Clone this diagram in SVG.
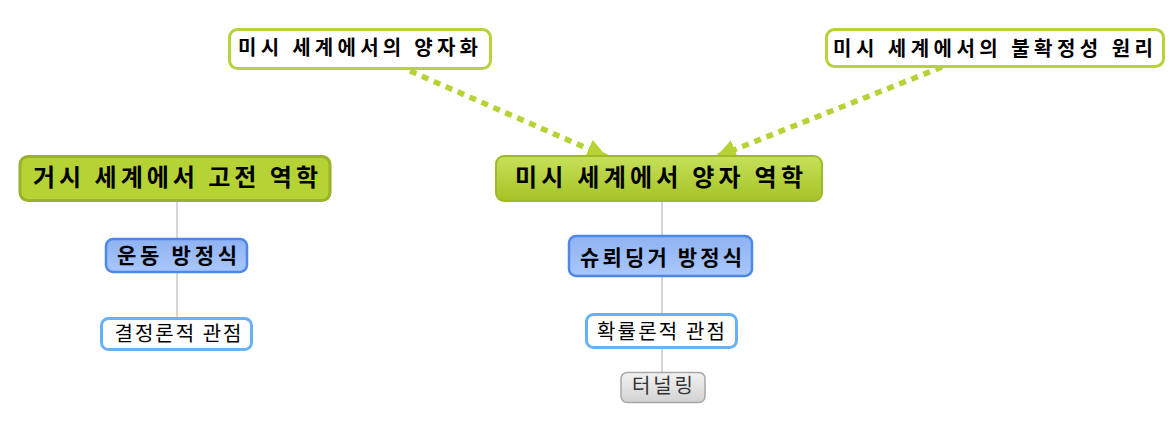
<svg xmlns="http://www.w3.org/2000/svg" width="1175" height="421" viewBox="0 0 1175 421">
<style>
text{font-family:"Noto Sans CJK KR","Noto Sans",sans-serif;text-anchor:middle;fill:#000}
.b{font-weight:bold}
.conn{stroke:#c8c8c8;stroke-width:1.5;fill:none}
.dash{stroke:#b5d334;stroke-width:5.5;stroke-dasharray:7 6;fill:none}
.top{fill:#fff;stroke:#b7d33a;stroke-width:3}
.blue{fill:url(#gb);stroke:#4d88e8;stroke-width:2.5}
.wb{fill:#fff;stroke:#67b1f6;stroke-width:3}
</style>
<defs>
<linearGradient id="gg" x1="0" y1="0" x2="0" y2="1"><stop offset="0" stop-color="#c6e15a"/><stop offset="1" stop-color="#a5c325"/></linearGradient>
<linearGradient id="gb" x1="0" y1="0" x2="0" y2="1"><stop offset="0" stop-color="#8fb2f3"/><stop offset="1" stop-color="#a9c7fa"/></linearGradient>
<linearGradient id="gr" x1="0" y1="0" x2="0" y2="1"><stop offset="0" stop-color="#f2f2f2"/><stop offset="1" stop-color="#d2d2d2"/></linearGradient>
<marker id="ah" markerUnits="userSpaceOnUse" markerWidth="22" markerHeight="22" refX="20" refY="10" orient="auto" viewBox="0 0 22 22">
<path d="M0,0 L20,10 L0,20 Z" fill="#b5d334"/>
</marker>
</defs>
<g id="connectors">
<line class="conn" x1="177" y1="202" x2="177" y2="238"/>
<line class="conn" x1="177" y1="273" x2="177" y2="318"/>
<line class="conn" x1="662" y1="201" x2="662" y2="236"/>
<line class="conn" x1="662" y1="276" x2="662" y2="313"/>
<line class="conn" x1="662" y1="348" x2="662" y2="372"/>
<line class="dash" x1="410" y1="71" x2="607" y2="157" marker-end="url(#ah)"/>
<line class="dash" x1="942" y1="67" x2="716" y2="157" marker-end="url(#ah)"/>
</g>
<g id="n1">
<rect class="top" x="229.5" y="29.5" width="261" height="39" rx="8"/>
<text class="b" x="358" y="55" font-size="20" textLength="240" lengthAdjust="spacing">미시 세계에서의 양자화</text>
</g>
<g id="n2">
<rect class="top" x="826.5" y="29.5" width="337" height="37" rx="8"/>
<text class="b" x="993" y="55.5" font-size="20" textLength="320" lengthAdjust="spacing">미시 세계에서의 불확정성 원리</text>
</g>
<g id="n3">
<rect x="20" y="156.5" width="310" height="44" rx="8" fill="#b5d334" stroke="#98b22c" stroke-width="3"/>
<text class="b" x="175.5" y="186" font-size="24" textLength="285" lengthAdjust="spacing">거시 세계에서 고전 역학</text>
</g>
<g id="n4">
<rect x="496" y="156" width="326" height="45" rx="8" fill="url(#gg)" stroke="#9dba27" stroke-width="2"/>
<text class="b" x="659" y="186" font-size="24" textLength="288" lengthAdjust="spacing">미시 세계에서 양자 역학</text>
</g>
<g id="n5">
<rect class="blue" x="106" y="239" width="141" height="33" rx="7"/>
<text class="b" x="177" y="263" font-size="21" textLength="120" lengthAdjust="spacing">운동 방정식</text>
</g>
<g id="n6">
<rect class="wb" x="101.5" y="318.5" width="150" height="31" rx="7"/>
<text x="178" y="341" font-size="20" textLength="127" lengthAdjust="spacing">결정론적 관점</text>
</g>
<g id="n7">
<rect class="blue" x="569" y="236" width="183" height="40" rx="7"/>
<text class="b" x="661" y="265" font-size="21" textLength="162" lengthAdjust="spacing">슈뢰딩거 방정식</text>
</g>
<g id="n8">
<rect class="wb" x="586.5" y="314.5" width="150" height="33" rx="7"/>
<text x="661" y="339" font-size="20" textLength="128" lengthAdjust="spacing">확률론적 관점</text>
</g>
<g id="n9">
<rect x="621" y="372.5" width="84" height="30" rx="6" fill="url(#gr)" stroke="#a8a8a8" stroke-width="1.5"/>
<text x="662.5" y="393" font-size="20" textLength="61" lengthAdjust="spacing" style="fill:#333">터널링</text>
</g>
</svg>
